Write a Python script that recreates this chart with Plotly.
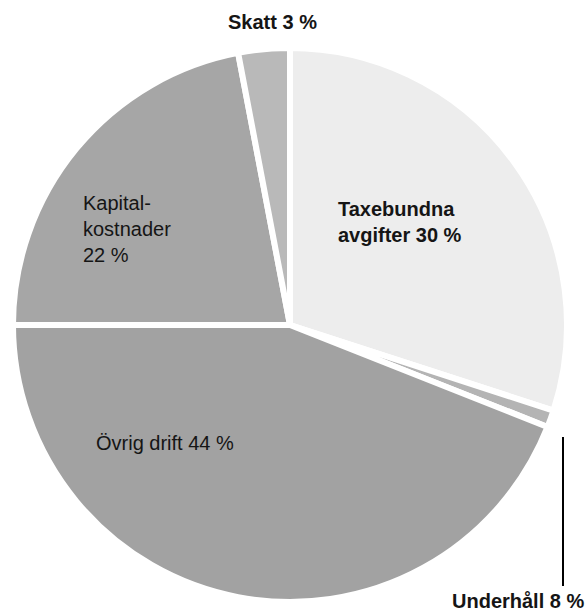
import plotly.graph_objects as go

categories = ["Taxebundna avgifter", "Underhåll", "Övrig drift", "Kapitalkostnader", "Skatt"]
values = [30, 1, 44, 22, 3]
colors = ["#ededed", "#b4b4b4", "#a2a2a2", "#a6a6a6", "#b9b9b9"]
label_texts = ["Taxebundna<br>avgifter 30 %", "Underhåll 8 %", "Övrig drift 44 %",
               "Kapital-<br>kostnader<br>22 %", "Skatt 3 %"]

W, H = 588, 612
fig = go.Figure(go.Pie(
    labels=categories, values=values, sort=False, direction="clockwise", rotation=0,
    marker=dict(colors=colors, line=dict(color="white", width=6)),
    textinfo="none", hoverinfo="label+percent", showlegend=False,
    domain=dict(x=[12 / W, 568 / W], y=[(H - 602) / H, (H - 48) / H]),
))

def px(x, y):
    return x / W, (H - y) / H

font = dict(family="Liberation Sans, Arial, sans-serif", size=20, color="#151515")
ann = [
    (label_texts[0], 336, 222, "left", True),
    (label_texts[1], 586, 601, "right", True),
    (label_texts[2], 94, 443, "left", False),
    (label_texts[3], 81, 229, "left", False),
    (label_texts[4], 272, 22, "center", True),
]
annotations = []
for text, x, y, align, bold in ann:
    ax, ay = px(x, y)
    annotations.append(dict(
        text=f"<b>{text}</b>" if bold else text, x=ax, y=ay, xref="paper", yref="paper",
        xanchor=align, yanchor="middle", align=align, showarrow=False, font=font,
    ))

x0, y0 = px(563, 437)
x1, y1 = px(563, 586)
fig.update_layout(
    width=W, height=H, margin=dict(l=0, r=0, t=0, b=0),
    paper_bgcolor="white", plot_bgcolor="white",
    annotations=annotations,
    shapes=[dict(type="line", xref="paper", yref="paper", x0=x0, y0=y0, x1=x1, y1=y1,
                 line=dict(color="black", width=2))],
)
fig.write_html("out.html")
